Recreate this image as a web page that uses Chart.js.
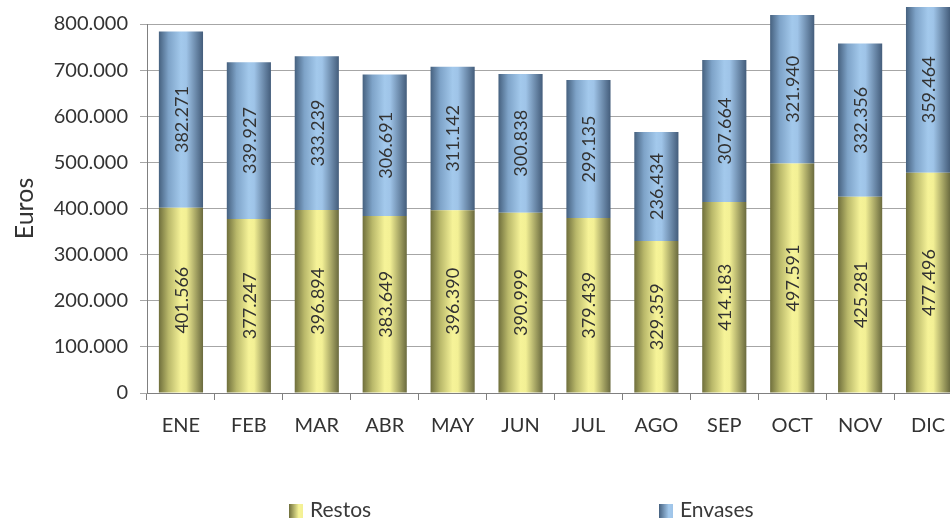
<!DOCTYPE html>
<html>
<head>
<meta charset="utf-8">
<script src="https://cdn.jsdelivr.net/npm/chart.js@4.4.1/dist/chart.umd.min.js"></script>
<style>
    html, body { margin: 0; padding: 0; background: #fff; overflow: hidden; }
    #wrap { position: relative; width: 950px; height: 518px; overflow: hidden; }
    #costChart { position: absolute; left: 0; top: 0; }
    .legend-item { position: absolute; top: 496px; font: 21px Lato, sans-serif; color: #3a3a3a; white-space: nowrap; }
    .legend-item span { display: inline-block; width: 14px; height: 14px; margin-right: 7px; vertical-align: -1px; }
</style>
</head>
<body>
<div id="wrap">
    <canvas id="costChart" width="965" height="518"></canvas>
    <div class="legend-item" id="leg0" style="left:289px"><span></span></div>
    <div class="legend-item" id="leg1" style="left:659px"><span></span></div>
</div>
<script>
const months = ['ENE', 'FEB', 'MAR', 'ABR', 'MAY', 'JUN', 'JUL', 'AGO', 'SEP', 'OCT', 'NOV', 'DIC'];
const restos = [401566, 377247, 396894, 383649, 396390, 390999, 379439, 329359, 414183, 497591, 425281, 477496];
const envases = [382271, 339927, 333239, 306691, 311142, 300838, 299135, 236434, 307664, 321940, 332356, 359464];
const seriesNames = ['Restos', 'Envases'];

// edge / highlight colours for the cylinder shading
const shades = {
    Restos: ['#6f6f3c', '#b9b86a', '#f6f398', '#f3f095', '#6a6a3e'],
    Envases: ['#46617f', '#7ea3c8', '#a3c9ec', '#9fc4e8', '#445d7b']
};

const BAR_PCT = 0.65;

function fmt(n) {
    return String(n).replace(/\B(?=(\d{3})+(?!\d))/g, '.');
}

function makeGradient(ctx, c0, x0, x1) {
    const g = ctx.createLinearGradient(x0, 0, x1, 0);
    g.addColorStop(0, c0[0]);
    g.addColorStop(0.22, c0[1]);
    g.addColorStop(0.5, c0[2]);
    g.addColorStop(0.62, c0[3]);
    g.addColorStop(1, c0[4]);
    return g;
}

function barFill(name) {
    return function(context) {
        const chart = context.chart;
        const area = chart.chartArea;
        const xs = chart.scales.x;
        if (!area || !xs || context.dataIndex === undefined) return shades[name][2];
        const cx = xs.getPixelForValue(context.dataIndex);
        const half = (area.width / months.length) * BAR_PCT / 2;
        return makeGradient(chart.ctx, shades[name], cx - half, cx + half);
    };
}

// vertical value labels in the middle of each segment
const segmentLabels = {
    id: 'segmentLabels',
    afterDatasetsDraw(chart) {
        const ctx = chart.ctx;
        ctx.save();
        ctx.fillStyle = '#333';
        ctx.font = '18px Lato, sans-serif';
        ctx.textAlign = 'center';
        ctx.textBaseline = 'middle';
        chart.data.datasets.forEach((ds, i) => {
            chart.getDatasetMeta(i).data.forEach((bar, j) => {
                const mid = (bar.y + bar.base) / 2;
                ctx.save();
                ctx.translate(bar.x, mid);
                ctx.rotate(-Math.PI / 2);
                ctx.fillText(fmt(ds.data[j]), 0, 1);
                ctx.restore();
            });
        });
        ctx.restore();
    }
};

const tickFont = { family: 'Lato, sans-serif', size: 20 };

const costChart = new Chart(document.getElementById('costChart'), {
    type: 'bar',
    data: {
        labels: months,
        datasets: [
            { label: seriesNames[0], data: restos, backgroundColor: barFill('Restos'), clip: false },
            { label: seriesNames[1], data: envases, backgroundColor: barFill('Envases'), clip: false }
        ]
    },
    options: {
        responsive: false,
        animation: false,
        events: [],
        layout: { padding: { top: 20, right: 3, bottom: 66, left: 0 } },
        datasets: {
            bar: { categoryPercentage: 1, barPercentage: BAR_PCT }
        },
        plugins: {
            legend: { display: false },
            tooltip: { enabled: false }
        },
        scales: {
            x: {
                stacked: true,
                grid: { drawOnChartArea: false, tickLength: 7, color: '#808080', offset: true },
                border: { color: '#808080' },
                ticks: { font: tickFont, color: '#333', padding: 14 }
            },
            y: {
                stacked: true,
                min: 0,
                max: 800000,
                afterFit(scale) { scale.width = 147; },
                grid: { color: '#a6a6a6', tickLength: 7 },
                border: { color: '#808080' },
                ticks: {
                    stepSize: 100000,
                    font: tickFont,
                    color: '#333',
                    padding: 12,
                    callback: v => fmt(v)
                },
                title: {
                    display: true,
                    text: 'Euros',
                    font: { family: 'Lato, sans-serif', size: 25 },
                    color: '#333',
                    padding: { top: 10, bottom: 0 }
                }
            }
        }
    },
    plugins: [segmentLabels]
});

// legend swatches share the bar shading
seriesNames.forEach((name, i) => {
    const item = document.getElementById('leg' + i);
    const c = shades[name];
    item.firstChild.style.background = 'linear-gradient(to right,' + c[0] + ',' + c[2] + ' 70%,' + c[3] + ')';
    item.appendChild(document.createTextNode(name));
});
</script>
</body>
</html>
